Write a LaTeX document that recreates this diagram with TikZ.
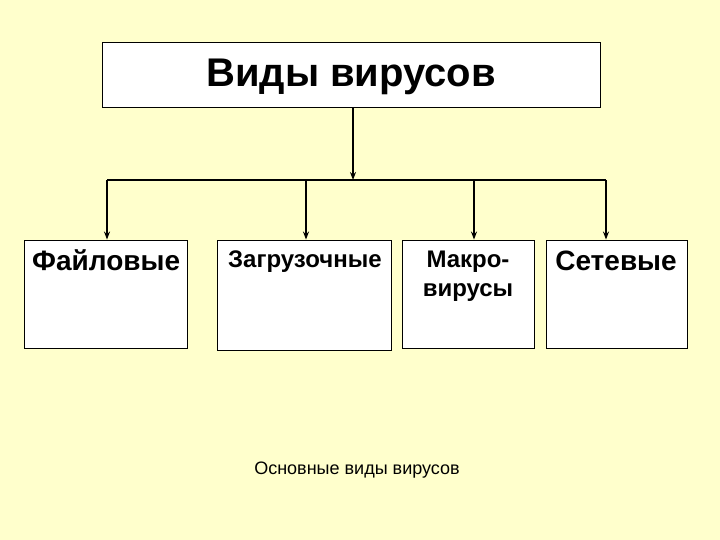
\documentclass[tikz,border=0pt]{standalone}
\usepackage{fontspec}
\setmainfont{Liberation Sans}
\usetikzlibrary{positioning, arrows.meta}
\definecolor{slidebg}{HTML}{FFFFCC}

\begin{document}
\begin{tikzpicture}[x=1pt, y=-1pt,
    box/.style={draw, fill=white, line width=0.9pt, inner sep=0pt},
    arr/.style={-{Stealth[length=8pt, width=6pt]}, line width=1.4pt},
    txt/.style={inner sep=0pt, font=\fontsize{24}{28}\selectfont\bfseries},
    head/.style={txt, font=\fontsize{28}{32}\selectfont\bfseries}]
  % background and page size
  \fill[slidebg] (0,0) rectangle (720,540);
  \useasboundingbox (0,0) rectangle (720,540);

  % main box
  \node[box, minimum width=498pt, minimum height=65pt] (top) at (351,74.5) {};
  \node[anchor=base, font=\fontsize{40}{44}\selectfont\bfseries] (toptxt) at (351,87) {Виды вирусов};

  % kinds
  \node[box, minimum width=163pt, minimum height=108pt] (fail) at (105.5,294) {};
  \node[box, minimum width=174pt, minimum height=110pt] (boot) at (304,295) {};
  \node[box, minimum width=132pt, minimum height=108pt] (macro) at (468,294) {};
  \node[box, minimum width=141pt, minimum height=108pt] (net) at (616.5,294) {};

  \node[anchor=base west, head] (failtxt) at (32,270) {Файловые};
  \node[anchor=base west, txt] (boottxt) at (228,267) {Загрузочные};
  \node[anchor=base, txt] (macrotxt) at (468,267) {Макро-};
  \node[anchor=base, txt] (macrotxt2) at (468,296) {вирусы};
  \node[anchor=base, head] (nettxt) at (616,270) {Сетевые};

  % connectors
  \coordinate (hub) at (353,180);
  \coordinate (j1) at (107,180);
  \coordinate (j2) at (306,180);
  \coordinate (j3) at (474,180);
  \coordinate (j4) at (606,180);
  \draw[line width=1.2pt] (j1) -- (j4);
  \draw[arr] (top.south -| hub) -- (hub);
  \draw[arr] (j1) -- (j1 |- fail.north);
  \draw[arr] (j2) -- (j2 |- boot.north);
  \draw[arr] (j3) -- (j3 |- macro.north);
  \draw[arr] (j4) -- (j4 |- net.north);

  % caption
  \node[font=\fontsize{18}{22}\selectfont] (caption) at (357,470) {Основные виды вирусов};
\end{tikzpicture}
\end{document}
